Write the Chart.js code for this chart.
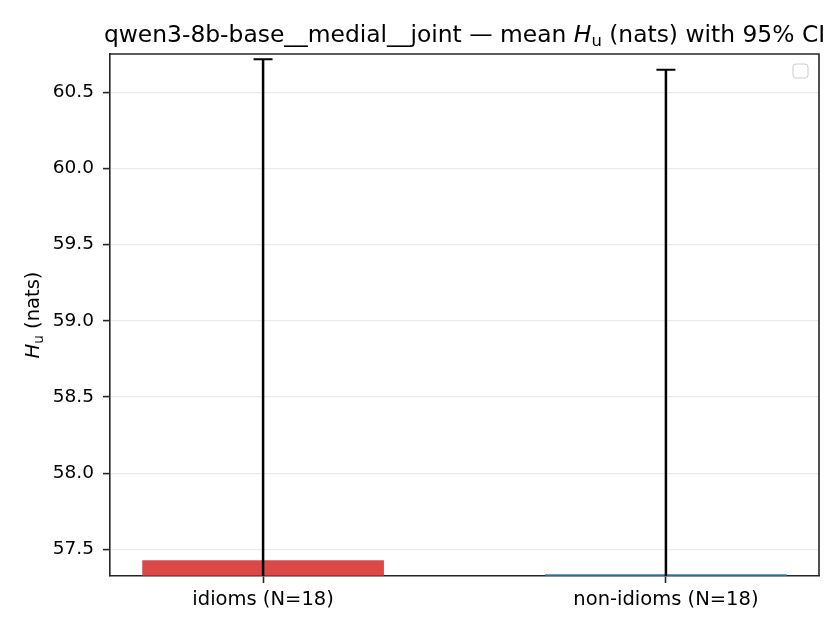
<!DOCTYPE html>
<html>
<head>
<meta charset="utf-8">
<script src="https://cdn.jsdelivr.net/npm/chart.js@4.4.1/dist/chart.umd.min.js"></script>
<style>
  html, body { margin: 0; padding: 0; background: #fff; }
  #wrap { width: 840px; height: 630px; }
</style>
</head>
<body>
<div id="wrap"><canvas id="myChart" width="840" height="630"></canvas></div>
<script>
  const categories = ['idioms (N=18)', 'non-idioms (N=18)'];
  const means = [57.428, 57.337];
  const ciLow = [54.14, 54.023];
  const ciHigh = [60.716, 60.647];
  const yTicks = [57.5, 58.0, 58.5, 59.0, 59.5, 60.0, 60.5];
  const barColors = ['rgba(214, 39, 40, 0.85)', 'rgba(31, 119, 180, 0.95)'];

  const FONT = 'DejaVu Sans';
  const AXIS = '#262626';

  // draw pieces of text one after another, each with its own style
  function drawRuns(ctx, runs, x, y, align) {
    let total = 0;
    runs.forEach(r => { ctx.font = r.font; r.w = ctx.measureText(r.text).width; total += r.w; });
    let cx = align === 'center' ? x - total / 2 : x;
    runs.forEach(r => {
      ctx.font = r.font;
      ctx.fillText(r.text, cx, y + (r.dy || 0));
      cx += r.w;
    });
  }

  const extras = {
    id: 'extras',
    afterDatasetsDraw(chart) {
      const ctx = chart.ctx, area = chart.chartArea;
      const xs = chart.scales.x, ys = chart.scales.y;
      ctx.save();
      ctx.beginPath();
      ctx.rect(area.left, area.top, area.right - area.left, area.bottom - area.top);
      ctx.clip();
      ctx.strokeStyle = '#000';
      means.forEach((m, i) => {
        const px = xs.getPixelForValue(i);
        const top = ys.getPixelForValue(ciHigh[i]);
        const bot = ys.getPixelForValue(ciLow[i]);
        ctx.lineWidth = 2.5;
        ctx.beginPath();
        ctx.moveTo(px, bot); ctx.lineTo(px, top);
        ctx.stroke();
        ctx.lineWidth = 2;
        ctx.beginPath();
        ctx.moveTo(px - 9.5, top); ctx.lineTo(px + 9.5, top);
        ctx.moveTo(px - 9.5, bot); ctx.lineTo(px + 9.5, bot);
        ctx.stroke();
      });
      ctx.restore();
    },
    afterDraw(chart) {
      const ctx = chart.ctx, area = chart.chartArea;
      ctx.save();
      // frame on top and right
      ctx.strokeStyle = AXIS;
      ctx.lineWidth = 1.6;
      ctx.beginPath();
      ctx.moveTo(area.left, area.top); ctx.lineTo(area.right, area.top); ctx.lineTo(area.right, area.bottom);
      ctx.stroke();

      // empty legend box
      ctx.strokeStyle = '#cccccc';
      ctx.fillStyle = 'rgba(255,255,255,0.8)';
      ctx.lineWidth = 1;
      ctx.beginPath();
      ctx.roundRect(area.right - 26, area.top + 10, 15, 14, 3);
      ctx.fill(); ctx.stroke();

      // title
      ctx.fillStyle = '#000';
      ctx.textBaseline = 'alphabetic';
      const ts = 23.4;
      drawRuns(ctx, [
        { text: 'qwen3-8b-base__medial__joint \u2014 mean ', font: ts + 'px "' + FONT + '"' },
        { text: 'H', font: 'italic ' + ts + 'px "' + FONT + '"' },
        { text: 'u', font: (ts * 0.7).toFixed(1) + 'px "' + FONT + '"', dy: 4 },
        { text: ' (nats) with 95% CI', font: ts + 'px "' + FONT + '"' }
      ], (area.left + area.right) / 2, 42, 'center');

      // y axis title
      const ls = 19.5;
      ctx.translate(39, (area.top + area.bottom) / 2);
      ctx.rotate(-Math.PI / 2);
      drawRuns(ctx, [
        { text: 'H', font: 'italic ' + ls + 'px "' + FONT + '"' },
        { text: 'u', font: (ls * 0.7).toFixed(1) + 'px "' + FONT + '"', dy: 3.5 },
        { text: ' (nats)', font: ls + 'px "' + FONT + '"' }
      ], 0, 0, 'center');
      ctx.restore();
    }
  };

  const data = {
    datasets: [{
      data: means.map((m, i) => ({ x: i, y: m })),
      backgroundColor: barColors,
      borderWidth: 0,
      barPercentage: 0.6,
      categoryPercentage: 1.0
    }]
  };

  const config = {
    type: 'bar',
    data: data,
    options: {
      responsive: false,
      animation: false,
      layout: { padding: { left: 0, right: 21, top: 54, bottom: 0 } },
      plugins: { legend: { display: false }, tooltip: { enabled: false }, title: { display: false } },
      scales: {
        x: {
          type: 'linear',
          min: -0.38,
          max: 1.38,
          offset: false,
          afterBuildTicks: s => { s.ticks = categories.map((c, i) => ({ value: i })); },
          afterFit: s => { s.height = 54; },
          ticks: {
            callback: v => categories[v],
            font: { family: FONT, size: 19.5 },
            color: '#000',
            padding: 5,
            maxRotation: 0,
            autoSkip: false
          },
          grid: { offset: false, drawOnChartArea: false, drawTicks: true, tickLength: 7, tickColor: AXIS, tickWidth: 1.6 },
          border: { display: true, color: AXIS, width: 1.6 }
        },
        y: {
          min: 57.325,
          max: 60.75,
          afterBuildTicks: s => { s.ticks = yTicks.map(v => ({ value: v })); },
          afterFit: s => { s.width = 110; },
          ticks: {
            callback: v => v.toFixed(1),
            font: { family: FONT, size: 18.5 },
            color: '#000',
            padding: 9
          },
          grid: { color: '#ebebeb', lineWidth: 1.2, drawTicks: true, tickLength: 7, tickColor: AXIS, tickWidth: 1.6 },
          border: { display: true, color: AXIS, width: 1.6 }
        }
      }
    },
    plugins: [extras]
  };

  const myChart = new Chart(document.getElementById('myChart'), config);
</script>
</body>
</html>
